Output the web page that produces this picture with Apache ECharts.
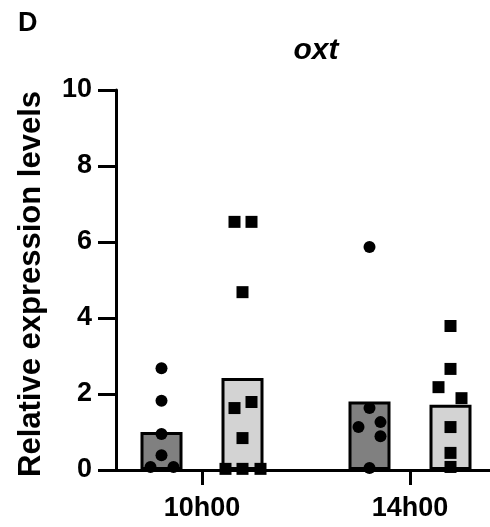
<!DOCTYPE html>
<html>
<head>
<meta charset="utf-8">
<script src="https://cdn.jsdelivr.net/npm/echarts@6/dist/echarts.min.js"></script>
<style>html,body{margin:0;padding:0;background:#fff}#c{width:490px;height:527px}</style>
</head>
<body>
<div id="c"></div>
<script>
// ---- data ----
var categories = ['10h00', '14h00'];
var barDark = [1.0, 1.8];
var barLight = [2.42, 1.72];
var ptsDark = [
  [2.68, 1.82, 0.95, 0.39, 0.08, 0.08],
  [5.87, 1.63, 1.26, 1.13, 0.89, 0.05]
];
var ptsLight = [
  [6.53, 6.53, 4.68, 1.79, 1.63, 0.84, 0.03, 0.03, 0.03],
  [3.79, 2.66, 2.18, 1.89, 1.13, 0.45, 0.08]
];
var yTicks = [0, 2, 4, 6, 8, 10];
// ---- layout (jitter, px) ----
var jitDark = [[0, 0, 0, 0, -11, 12], [0, 0, 11, -11, 11, 0]];
var jitLight = [[-8, 9, 0, 9, -8, 0, -17, 0, 18], [0, 0, -12, 11, 0, 0, 0]];
var PX_PER_UNIT = 208;
var BAR_OFFSET = 40.5 / PX_PER_UNIT;

function catX(i) { return i + 1; }
var font = 'Liberation Sans, Arial, sans-serif';

var darkBars = barDark.map(function (v, i) { return [catX(i) - BAR_OFFSET, v]; });
var lightBars = barLight.map(function (v, i) { return [catX(i) + BAR_OFFSET, v]; });
var darkPts = [], lightPts = [];
ptsDark.forEach(function (arr, i) {
  arr.forEach(function (v, k) { darkPts.push([catX(i) - BAR_OFFSET + jitDark[i][k] / PX_PER_UNIT, v]); });
});
ptsLight.forEach(function (arr, i) {
  arr.forEach(function (v, k) { lightPts.push([catX(i) + BAR_OFFSET + jitLight[i][k] / PX_PER_UNIT, v]); });
});

var chart = echarts.init(document.getElementById('c'), null, { renderer: 'canvas' });
chart.setOption({
  animation: false,
  backgroundColor: '#fff',
  title: [
    { text: 'D', left: 13, top: 5, textStyle: { fontFamily: font, fontWeight: 'bold', fontSize: 27, color: '#000' } },
    { text: 'oxt', left: 311, top: 31, textAlign: 'center', textStyle: { fontFamily: font, fontWeight: 'bold', fontStyle: 'italic', fontSize: 30, color: '#000' } }
  ],
  grid: { left: 116, right: 0, top: 90, bottom: 57, containLabel: false },
  xAxis: {
    type: 'value',
    min: 1 - 86 / PX_PER_UNIT,
    max: 2 + 80 / PX_PER_UNIT,
    splitLine: { show: false },
    axisLine: { show: true, lineStyle: { color: '#000', width: 3 } },
    axisTick: { show: true, customValues: [1, 2], length: 15, lineStyle: { color: '#000', width: 3 } },
    axisLabel: {
      customValues: [1, 2],
      formatter: function (v) { return categories[Math.round(v) - 1] || ''; },
      fontFamily: font, fontWeight: 'bold', fontSize: 27, color: '#000', margin: 25
    }
  },
  yAxis: {
    type: 'value',
    min: yTicks[0], max: yTicks[yTicks.length - 1], interval: 2,
    name: 'Relative expression levels',
    nameLocation: 'middle',
    nameGap: 69,
    nameTextStyle: { fontFamily: font, fontWeight: 'bold', fontSize: 31, color: '#000', padding: [0, 8, 0, 0] },
    splitLine: { show: false },
    axisLine: { show: true, lineStyle: { color: '#000', width: 3 } },
    axisTick: { show: true, length: 18, lineStyle: { color: '#000', width: 3 } },
    axisLabel: { fontFamily: font, fontWeight: 'bold', fontSize: 27, color: '#000', margin: 24 }
  },
  series: [
    {
      type: 'bar', data: darkBars, barWidth: 42, barGap: '-100%', z: 2,
      itemStyle: { color: '#808080', borderColor: '#000', borderWidth: 3 }
    },
    {
      type: 'bar', data: lightBars, barWidth: 42, barGap: '-100%', z: 2,
      itemStyle: { color: '#d3d3d3', borderColor: '#000', borderWidth: 3 }
    },
    {
      type: 'scatter', data: darkPts, symbol: 'circle', symbolSize: 12, z: 5,
      itemStyle: { color: '#000', opacity: 1 }
    },
    {
      type: 'scatter', data: lightPts, symbol: 'rect', symbolSize: 12, z: 5,
      itemStyle: { color: '#000', opacity: 1 }
    }
  ]
});
</script>
</body>
</html>
